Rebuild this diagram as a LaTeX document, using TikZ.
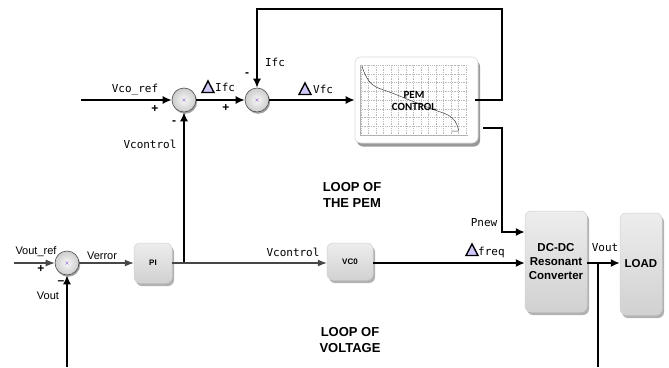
\documentclass[tikz,border=0pt]{standalone}
\usepackage{fontspec}
\setmainfont{Liberation Sans}
\newfontfamily\monof{DejaVu Sans Mono}
\newfontfamily\pemf{Carlito}
\usetikzlibrary{shadows,arrows.meta}
\begin{document}
\begin{tikzpicture}[x=1pt,y=-1pt,
  wire/.style={line width=1.5pt,black},
  arr/.style={wire,-{Latex[length=9pt,width=8pt]}},
  garr/.style={line width=1.1pt,black!72,-{Latex[length=9pt,width=7pt]}},
  sumj/.style={circle,minimum size=24pt,inner sep=0pt,draw=gray!60!black,line width=0.6pt,
    inner color=gray!6,outer color=gray!40,
    drop shadow={shadow xshift=1.2pt,shadow yshift=-1.8pt,opacity=0.35,fill=black}},
  blk/.style={rounded corners=6pt,draw=gray!35,line width=0.5pt,top color=gray!14,bottom color=gray!36,
    drop shadow={shadow xshift=2pt,shadow yshift=-3pt,opacity=0.3,fill=black},
    align=center,inner sep=0pt},
  ml/.style={font=\monof\fontsize{11}{12}\selectfont,inner sep=0pt},
  sl/.style={font=\fontsize{11}{12}\selectfont,inner sep=0pt},
  sg/.style={font=\bfseries\fontsize{12}{13}\selectfont,inner sep=0pt},
  looplab/.style={font=\bfseries\fontsize{13}{15.5}\selectfont,align=center,inner sep=0pt},
  dtri/.pic={\draw[line width=1.4pt,fill=violet!25!blue!22] (-6,5.5) -- (6,5.5) -- (0,-6) -- cycle;},
  xmark/.pic={\draw[violet!60!blue!50,line width=0.4pt] (-1.5,-1.5) -- (1.5,1.5) (-1.5,1.5) -- (1.5,-1.5);}
]
\useasboundingbox (0,0) rectangle (669,367);

% summing junctions
\node[sumj] (s1) at (184,100) {};
\node[sumj] (s2) at (257,100) {};
\node[sumj] (s3) at (67,263) {};
\pic at (s1) {xmark};
\pic at (s2) {xmark};
\pic at (s3) {xmark};

% blocks
\node[blk,minimum width=38pt,minimum height=40pt,font=\bfseries\fontsize{8}{9}\selectfont] (pi) at (153,263) {PI};
\node[blk,minimum width=46pt,minimum height=37pt,font=\bfseries\fontsize{8}{9}\selectfont] (vco) at (350,261.5) {VC0};
\node[blk,minimum width=62pt,minimum height=101pt,font=\bfseries\fontsize{11.5}{14}\selectfont] (dc) at (556,261.5) {DC-DC\\Resonant\\Converter};
\node[blk,minimum width=42pt,minimum height=102pt,font=\bfseries\fontsize{11.5}{14}\selectfont] (load) at (641,264) {LOAD};

% PEM control box
\node[rounded corners=6pt,draw=gray!30,line width=0.6pt,fill=white,minimum width=123pt,minimum height=86pt,
  drop shadow={shadow xshift=2pt,shadow yshift=-3.5pt,opacity=0.4,fill=black},inner sep=0pt] (pem) at (416.5,100) {};
\foreach \gx in {361,368.5,...,468} {\draw[gray!55,line width=0.3pt,dash pattern=on 1pt off 0.8pt] (\gx,65) -- (\gx,135);}
\foreach \gy in {65,73.75,...,136} {\draw[gray!55,line width=0.3pt,dash pattern=on 1pt off 0.8pt] (360,\gy) -- (468,\gy);}
\draw[gray!60,line width=0.4pt] (360,135) -- (468,135) (360,65) -- (360,135);
\draw[black!75,line width=0.5pt] plot[smooth] coordinates {(362,66) (364,72) (369,81) (376,87) (392,93) (412,101) (432,109) (448,115) (455,121) (458,128) (458,131) (452,131)};
\node[font=\pemf\bfseries\fontsize{11}{12}\selectfont,align=center,inner sep=0pt] (pemtxt) at (414,101) {PEM\\CONTROL};

% inputs / coordinates
\coordinate (in1) at (81,100);
\coordinate (in2) at (14,263);
\coordinate (c1) at (502,9);
\coordinate (c2) at (502,232);
\coordinate (br) at (184,263);
\coordinate (vb) at (598,263);
\coordinate (bot1) at (67,367);
\coordinate (bot2) at (598,367);
\coordinate (pemo1) at (475,100);
\coordinate (pemo2) at (483,128);

% connectors (top loop)
\draw[arr] (in1) -- (s1.west);
\draw[arr] (s1.east) -- (s2.west);
\draw[arr] (s2.east) -- (pem.west |- s2.east);
\draw[arr] (pemo1) -| (c1) -| (s2.north);
\draw[arr] (pemo2) -| (c2) -- (dc.west |- c2);
\draw[arr] (br) -- (s1.south);

% connectors (bottom loop)
\draw[garr] (in2) -- (s3.west);
\draw[garr] (s3.east) -- (pi.west);
\draw[garr] (pi.east) -- (vco.west |- pi.east);
\draw[arr] (vco.east |- br) -- (dc.west |- br);
\draw[arr] (dc.east |- br) -- (load.west |- br);
\draw[wire] (vb) -- (bot2);
\draw[arr] (bot1) -- (s3.south);

% labels
\node[ml] (lvcoref) at (135,90) {Vco\_ref};
\node[sg] (p1) at (155,109) {+};
\pic at (208,87) {dtri};
\node[ml,anchor=west] (ldifc) at (215,87) {Ifc};
\node[sg] (p2) at (226,108) {+};
\node[sg] (m2) at (247,75) {-};
\node[ml] (lifc) at (275,62) {Ifc};
\node[sg] (m1) at (174,123) {-};
\node[ml] (lvc1) at (150,144) {Vcontrol};
\pic at (305,89) {dtri};
\node[ml,anchor=west] (ldvfc) at (313,89) {Vfc};
\node[ml] (lpnew) at (484,223) {Pnew};
\pic at (472,250) {dtri};
\node[ml,anchor=west] (lfreq) at (478,252) {freq};
\node[ml] (lvout2) at (605,248) {Vout};
\node[looplab] (lpem) at (352,195) {LOOP OF\\THE PEM};
\node[looplab] (lvolt) at (350,340) {LOOP OF\\VOLTAGE};
\node[sl] (lvoutref) at (36,252) {Vout\_ref};
\node[sg] (p3) at (41,269) {+};
\node[sg] (m3) at (61,283) {\char"2013};
\node[sl] (lvout1) at (48,296) {Vout};
\node[sl] (lverror) at (102,256) {Verror};
\node[ml] (lvc2) at (293,252) {Vcontrol};
\end{tikzpicture}
\end{document}
